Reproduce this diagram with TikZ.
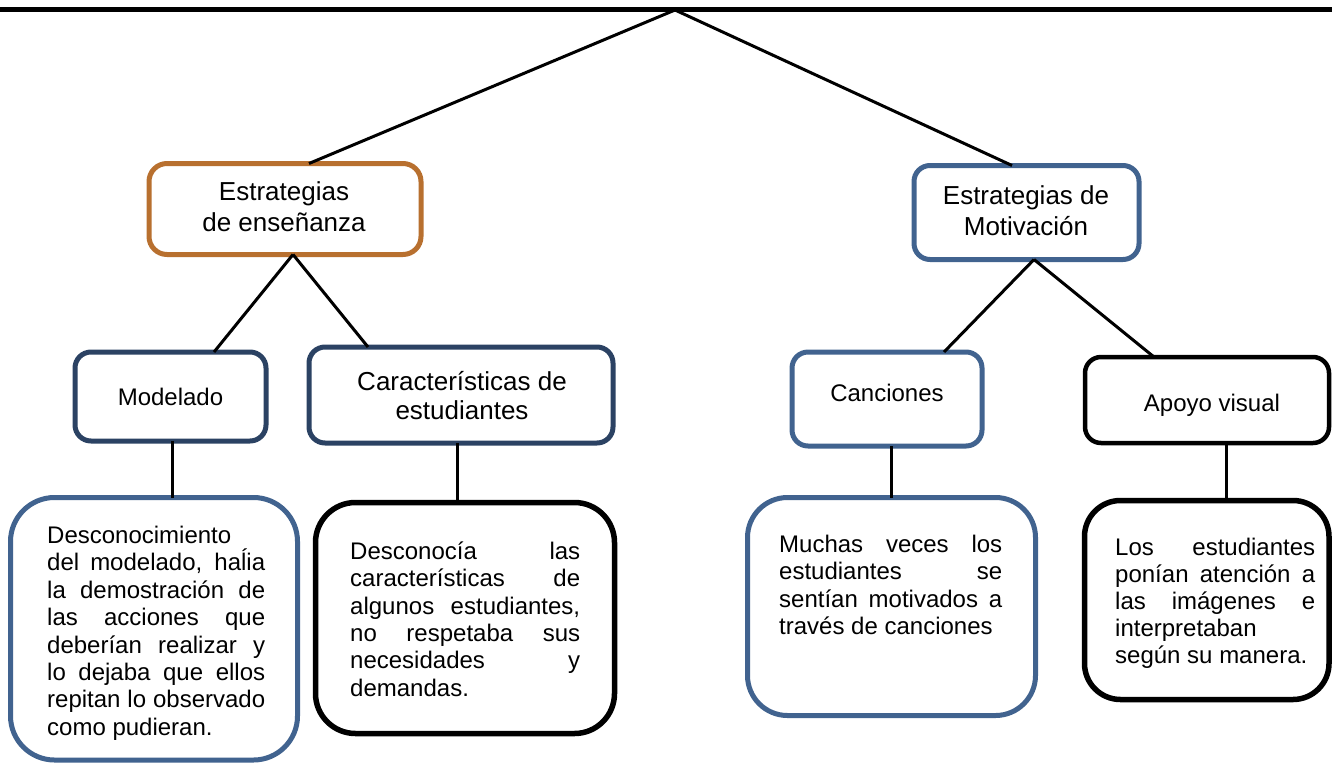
\documentclass[tikz,border=0pt]{standalone}
\usepackage{fontspec}
\setmainfont{Liberation Sans}
\definecolor{orng}{HTML}{B8702F}
\definecolor{blu}{HTML}{41638F}
\definecolor{navy}{HTML}{2B4263}
\newcommand\jl[2]{\makebox[#1][s]{#2}}
\begin{document}
\begin{tikzpicture}[x=1pt,y=-1pt,
  box/.style={draw, rounded corners=16pt, fill=white, outer sep=0pt, inner sep=0pt, line width=5pt},
  bigbox/.style={box, rounded corners=40pt},
  link/.style={line width=3pt, black},
  topline/.style={line width=5pt, black},
  tbody/.style={inner sep=0pt, font=\fontsize{24}{27.4}\selectfont, align=left, anchor=north west},
  tone/.style={inner sep=0pt, font=\fontsize{24}{28}\selectfont, anchor=base},
  ttwo/.style={inner sep=0pt, font=\fontsize{26}{31}\selectfont, align=center, anchor=north},
]
\useasboundingbox (0,0) rectangle (1332,764);

% boxes
\node[box, draw=orng, rounded corners=18pt, minimum width=272pt, minimum height=91pt] (ens) at (285,209) {};
\node[box, draw=blu, minimum width=225pt, minimum height=94pt] (mot) at (1026.5,212.5) {};
\node[box, draw=navy, minimum width=191pt, minimum height=89pt] (modelado) at (170.5,396.5) {};
\node[box, draw=navy, minimum width=304pt, minimum height=96pt] (caract) at (461,395) {};
\node[box, draw=blu, minimum width=190pt, minimum height=94pt] (canc) at (887,399) {};
\node[box, draw=black, line width=4.5pt, minimum width=244pt, minimum height=86pt] (apoyo) at (1207,400) {};
\node[bigbox, draw=blu, rounded corners=44pt, minimum width=287pt, minimum height=262.5pt] (b1) at (154,628.75) {};
\node[bigbox, draw=black, line width=5.5pt, minimum width=299pt, minimum height=231pt] (b2) at (465,618) {};
\node[bigbox, draw=blu, minimum width=288pt, minimum height=218pt] (b3) at (891.5,606.5) {};
\node[bigbox, draw=black, line width=5.5pt, rounded corners=36pt, minimum width=244.5pt, minimum height=199pt] (b4) at (1206.75,600) {};

% top bar and connectors
\coordinate (tl) at (0,9);
\coordinate (tr) at (1332,9);
\coordinate (apex) at (675,10);
\draw[topline] (tl) -- (tr);
\draw[link] (apex) -- ([xshift=24pt]ens.north);
\draw[link] (apex) -- ([xshift=-14.5pt]mot.north);
\draw[link] ([xshift=8pt]ens.south) -- ([xshift=43.5pt]modelado.north);
\draw[link] ([xshift=8pt]ens.south) -- ([xshift=-93pt]caract.north);
\draw[link] ([xshift=7.5pt]mot.south) -- ([xshift=57pt]canc.north);
\draw[link] ([xshift=7.5pt]mot.south) -- ([xshift=-53pt]apoyo.north);
\draw[link] ([xshift=1.5pt]modelado.south) -- ([xshift=1.5pt]modelado.south |- b1.north);
\draw[link] ([xshift=-3.5pt]caract.south) -- ([xshift=-3.5pt]caract.south |- b2.north);
\draw[link] ([xshift=4pt]canc.south) -- ([xshift=4pt]canc.south |- b3.north);
\draw[link] ([xshift=19pt]apoyo.south) -- ([xshift=19pt]apoyo.south |- b4.north);

% texts
\node[ttwo] (ens-t) at (284,179) {\rule{0pt}{21pt}Estrategias\\de enseñanza};
\node[ttwo] (mot-t) at (1026,183.3) {\rule{0pt}{21pt}Estrategias de\\Motivación};
\node[ttwo, font=\fontsize{26}{29.5}\selectfont] (caract-t) at (462,369) {\rule{0pt}{21pt}Características de\\estudiantes};
\node[tone] (modelado-t) at (170.5,405.7) {Modelado};
\node[tone] (canc-t) at (887,401) {Canciones};
\node[tone] (apoyo-t) at (1212,411) {Apoyo visual};

\node[tbody] (b1-t) at (47,523.3) {\rule{0pt}{20pt}Desconocimiento\\
\jl{218pt}{del modelado, haĺia}\\
\jl{218pt}{la demostración de}\\
\jl{218pt}{las acciones que}\\
\jl{218pt}{deberían realizar y}\\
\jl{218pt}{lo dejaba que ellos}\\
\jl{218pt}{repitan lo observado}\\
como pudieran.};

\node[tbody] (b2-t) at (350,539) {\rule{0pt}{20pt}\jl{230pt}{Desconocía las}\\
\jl{230pt}{características de}\\
\jl{230pt}{algunos estudiantes,}\\
\jl{230pt}{no respetaba sus}\\
\jl{230pt}{necesidades y}\\
demandas.};

\node[tbody] (b3-t) at (779,532) {\rule{0pt}{20pt}\jl{223pt}{Muchas veces los}\\
\jl{223pt}{estudiantes se}\\
\jl{223pt}{sentían motivados a}\\
través de canciones};

\node[tbody, font=\fontsize{24}{27}\selectfont] (b4-t) at (1115,535) {\rule{0pt}{20pt}\jl{200pt}{Los estudiantes}\\
\jl{200pt}{ponían atención a}\\
\jl{200pt}{las imágenes e}\\
interpretaban\\
según su manera.};
\end{tikzpicture}
\end{document}
